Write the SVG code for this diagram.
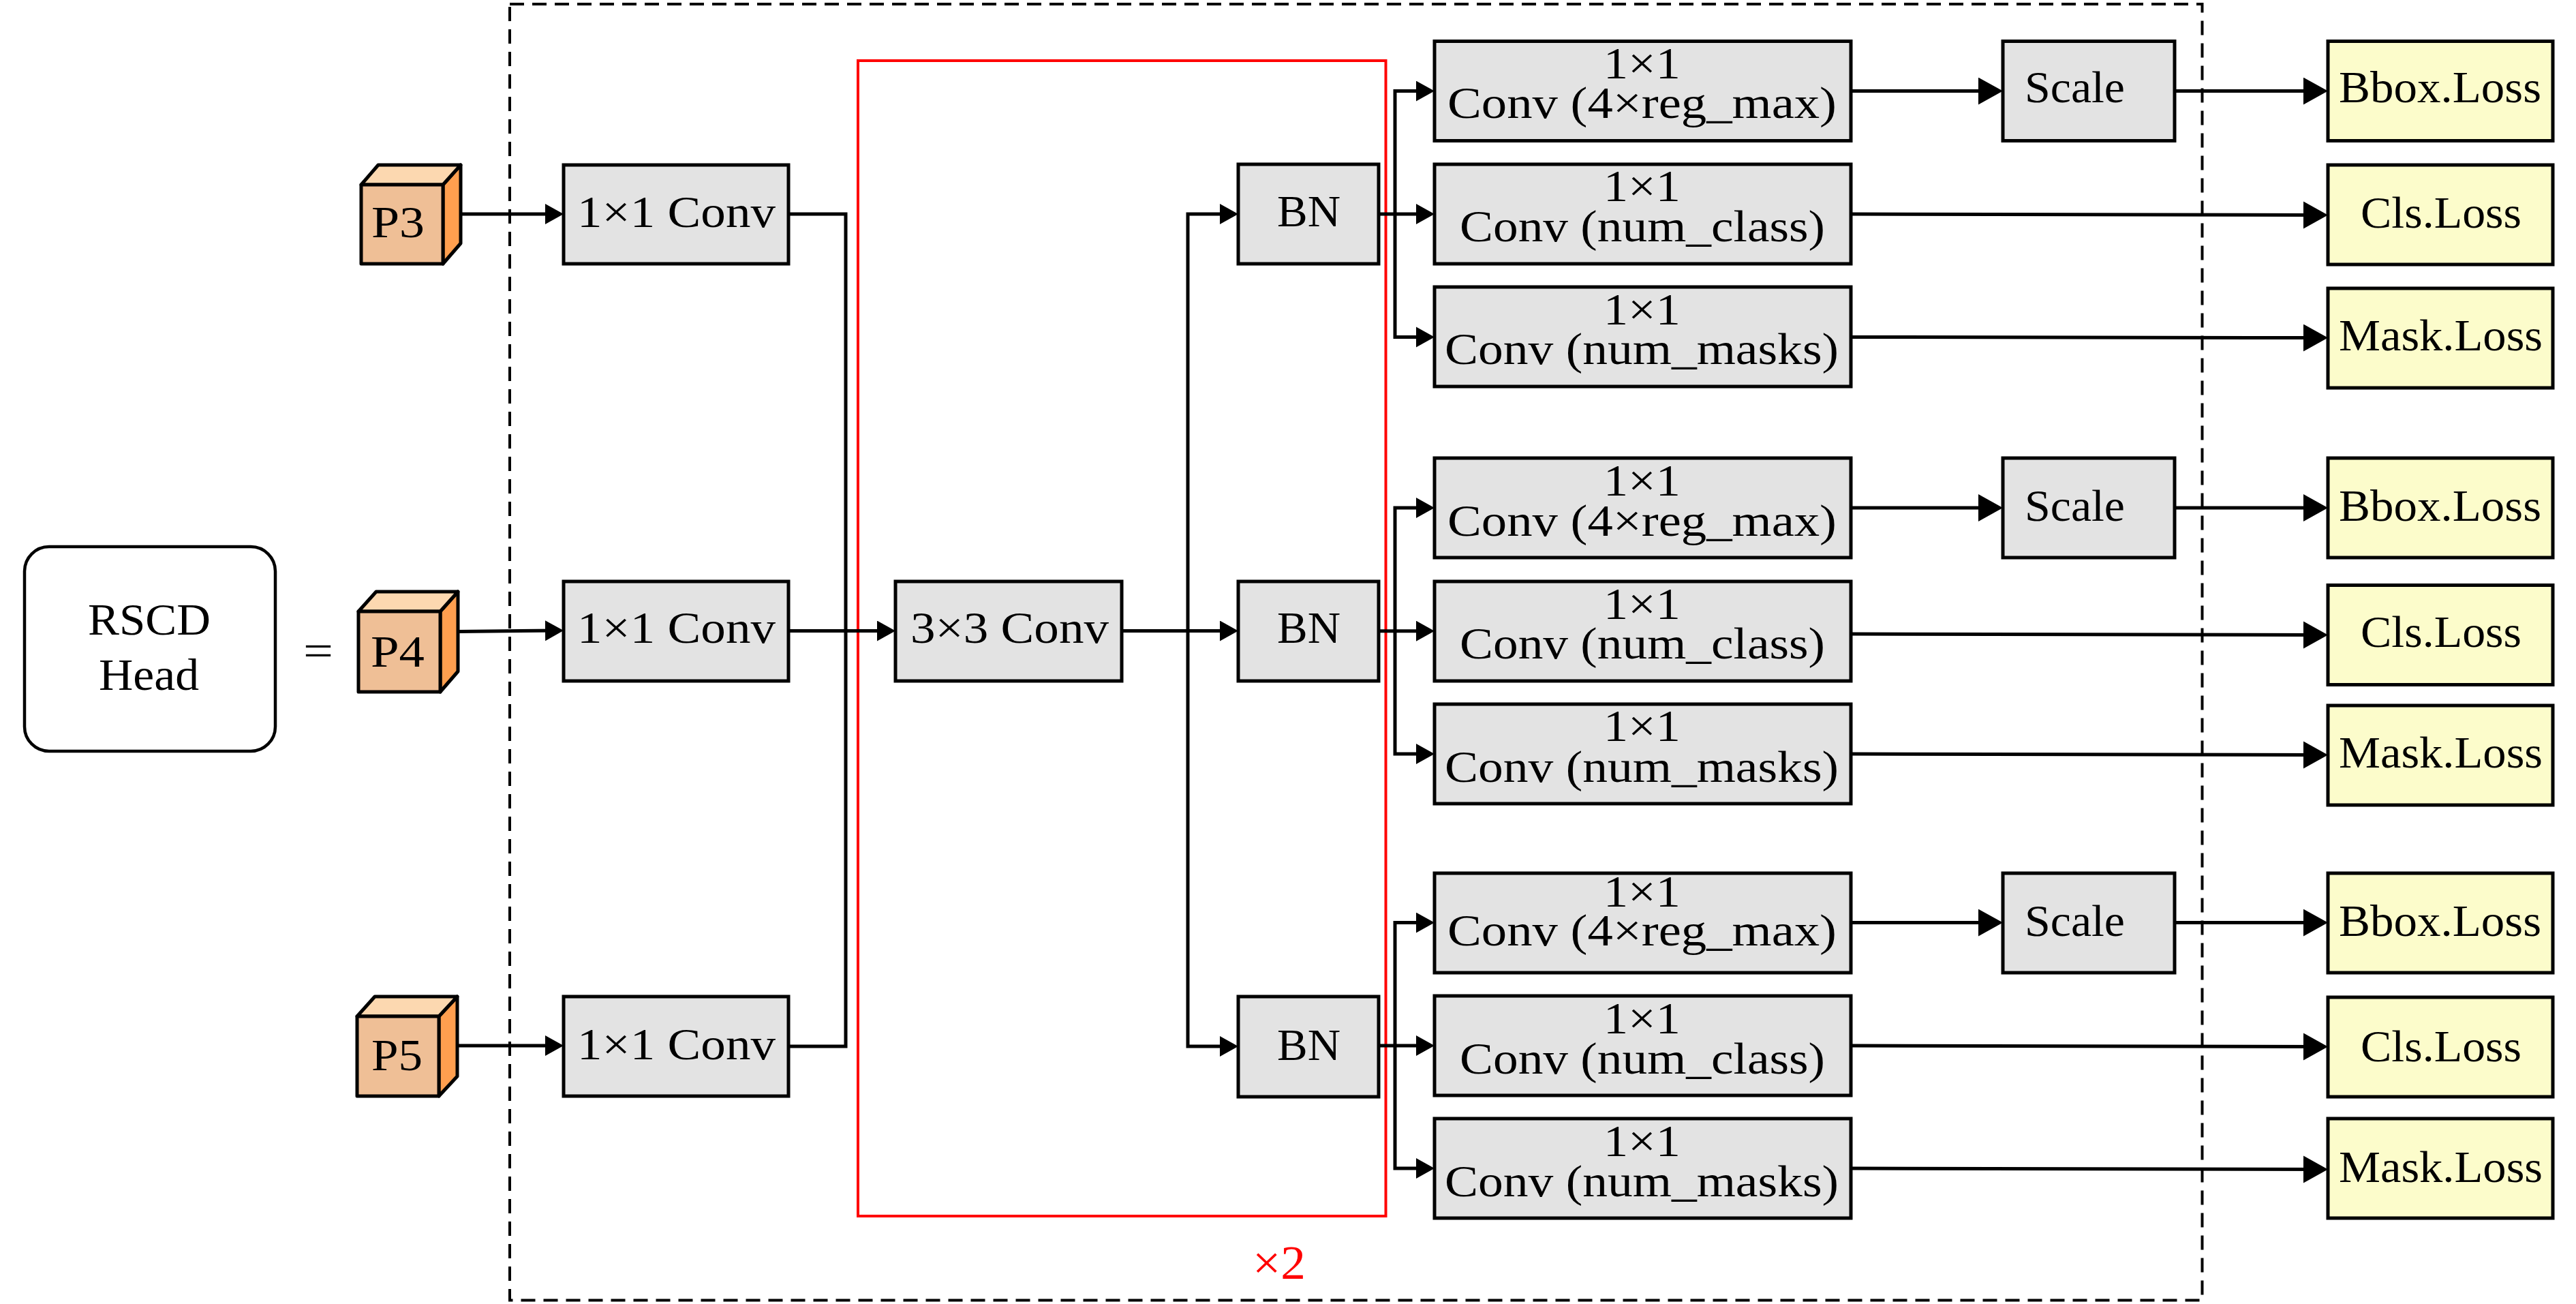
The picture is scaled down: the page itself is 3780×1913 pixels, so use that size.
<svg xmlns="http://www.w3.org/2000/svg" width="3780" height="1913" viewBox="0 0 3780 1913">
<style>
text{font-family:"Liberation Serif","Times New Roman",serif;font-size:66px;fill:#000}
.gray{fill:#e3e3e3;stroke:#000;stroke-width:5}
.loss{fill:#fcfccb;stroke:#000;stroke-width:5}
.c{fill:none;stroke:#000;stroke-width:5}
.front{fill:#efbf96;stroke:#000;stroke-width:5;stroke-linejoin:round}
.top{fill:#fcd8b0;stroke:#000;stroke-width:5;stroke-linejoin:round}
.side{fill:#ff9f4f;stroke:#000;stroke-width:5;stroke-linejoin:round}
.dash{fill:none;stroke:#000;stroke-width:4;stroke-dasharray:21 12}
.red{fill:none;stroke:#f00;stroke-width:4}
</style>
<defs>
<marker id="s" markerUnits="userSpaceOnUse" markerWidth="30" markerHeight="32" refX="17" refY="15" orient="auto"><polygon points="0,0 27,15 0,30" fill="#000"/></marker>
<marker id="b" markerUnits="userSpaceOnUse" markerWidth="40" markerHeight="42" refX="26" refY="20" orient="auto"><polygon points="0,0 36,20 0,40" fill="#000"/></marker>
</defs>
<rect width="3780" height="1913" fill="#fff"/>
<g id="frames">
<rect class="dash" x="748" y="6" width="2483.500" height="1901.500"/>
<rect class="red" x="1259" y="89" width="774.500" height="1695"/>
</g>
<g id="connectors">
<path class="c" marker-end="url(#s)" d="M676 314H817"/>
<path class="c" marker-end="url(#s)" d="M672 926.500L817 925"/>
<path class="c" marker-end="url(#s)" d="M671 1534H817"/>
<path class="c" d="M1157 314H1241V1535H1157"/>
<path class="c" marker-end="url(#s)" d="M1157 925.500H1304"/>
<path class="c" marker-end="url(#s)" d="M1646 925.500H1807"/>
<path class="c" marker-end="url(#s)" d="M1743 925.500V314H1807"/>
<path class="c" marker-end="url(#s)" d="M1743 925.500V1535H1807"/>
<path class="c" marker-end="url(#s)" d="M2023 314H2095"/>
<path class="c" marker-end="url(#s)" d="M2047 314V133.600H2095"/>
<path class="c" marker-end="url(#s)" d="M2047 314V494.400H2095"/>
<path class="c" marker-end="url(#s)" d="M2023 925.700H2095"/>
<path class="c" marker-end="url(#s)" d="M2047 925.700V745H2095"/>
<path class="c" marker-end="url(#s)" d="M2047 925.700V1106H2095"/>
<path class="c" marker-end="url(#s)" d="M2023 1534H2095"/>
<path class="c" marker-end="url(#s)" d="M2047 1534V1353.600H2095"/>
<path class="c" marker-end="url(#s)" d="M2047 1534V1714H2095"/>
<path class="c" marker-end="url(#b)" d="M2716 133.600H2929"/>
<path class="c" marker-end="url(#b)" d="M3191 133.600H3406"/>
<path class="c" marker-end="url(#b)" d="M2716 314L3406 315.500"/>
<path class="c" marker-end="url(#b)" d="M2716 494.400L3406 495.600"/>
<path class="c" marker-end="url(#b)" d="M2716 745H2929"/>
<path class="c" marker-end="url(#b)" d="M3191 745H3406"/>
<path class="c" marker-end="url(#b)" d="M2716 930L3406 931.500"/>
<path class="c" marker-end="url(#b)" d="M2716 1106L3406 1107.500"/>
<path class="c" marker-end="url(#b)" d="M2716 1353.600H2929"/>
<path class="c" marker-end="url(#b)" d="M3191 1353.600H3406"/>
<path class="c" marker-end="url(#b)" d="M2716 1534L3406 1535.500"/>
<path class="c" marker-end="url(#b)" d="M2716 1714L3406 1715.500"/>
</g>
<g id="head"><rect x="36" y="802" width="368" height="300" rx="36" ry="36" fill="#fff" stroke="#000" stroke-width="4.500"/>
<text><tspan x="129" y="931" textLength="180" lengthAdjust="spacingAndGlyphs">RSCD</tspan><tspan x="145" y="1012" textLength="147" lengthAdjust="spacingAndGlyphs">Head</tspan></text></g>
<g id="equals"><text x="445" y="977" textLength="44" lengthAdjust="spacingAndGlyphs">=</text></g>
<g id="p3"><polygon class="side" points="650,271 676,242 676,357 650,387"/><polygon class="top" points="530,271 555,242 676,242 650,271"/><rect class="front" x="530" y="271" width="120" height="116"/>
<text x="545" y="348" textLength="78" lengthAdjust="spacingAndGlyphs">P3</text></g>
<g id="p4"><polygon class="side" points="646,897 672,868 672,985 646,1015"/><polygon class="top" points="526,897 552,868 672,868 646,897"/><rect class="front" x="526" y="897" width="120" height="118"/>
<text x="544" y="978" textLength="79" lengthAdjust="spacingAndGlyphs">P4</text></g>
<g id="p5"><polygon class="side" points="644,1491 671,1462 671,1579 644,1608"/><polygon class="top" points="524,1491 550,1462 671,1462 644,1491"/><rect class="front" x="524" y="1491" width="120" height="117"/>
<text x="545" y="1570" textLength="75" lengthAdjust="spacingAndGlyphs">P5</text></g>
<g id="conv1a"><rect class="gray" x="827" y="242" width="330" height="145"/><text x="847" y="333" textLength="291" lengthAdjust="spacingAndGlyphs">1×1 Conv</text></g>
<g id="conv1b"><rect class="gray" x="827" y="853" width="330" height="146"/><text x="847" y="943" textLength="291" lengthAdjust="spacingAndGlyphs">1×1 Conv</text></g>
<g id="conv1c"><rect class="gray" x="827" y="1462" width="330" height="146"/><text x="847" y="1554" textLength="291" lengthAdjust="spacingAndGlyphs">1×1 Conv</text></g>
<g id="conv3"><rect class="gray" x="1314" y="853" width="332" height="146"/><text x="1336" y="943" textLength="291" lengthAdjust="spacingAndGlyphs">3×3 Conv</text></g>
<g id="bn1"><rect class="gray" x="1817" y="241" width="206" height="146"/><text x="1874" y="332" textLength="93" lengthAdjust="spacingAndGlyphs">BN</text></g>
<g id="bn2"><rect class="gray" x="1817" y="853" width="206" height="146"/><text x="1874" y="943" textLength="93" lengthAdjust="spacingAndGlyphs">BN</text></g>
<g id="bn3"><rect class="gray" x="1817" y="1462" width="206" height="147"/><text x="1874" y="1555" textLength="93" lengthAdjust="spacingAndGlyphs">BN</text></g>
<g id="reg1"><rect class="gray" x="2105" y="60.500" width="611" height="146"/><text><tspan x="2353" y="115" textLength="113" lengthAdjust="spacingAndGlyphs">1×1</tspan><tspan x="2124" y="173" textLength="571" lengthAdjust="spacingAndGlyphs">Conv (4×reg_max)</tspan></text></g>
<g id="cls1"><rect class="gray" x="2105" y="241" width="611" height="146"/><text><tspan x="2353" y="295" textLength="113" lengthAdjust="spacingAndGlyphs">1×1</tspan><tspan x="2142" y="354" textLength="536" lengthAdjust="spacingAndGlyphs">Conv (num_class)</tspan></text></g>
<g id="mask1"><rect class="gray" x="2105" y="421" width="611" height="146"/><text><tspan x="2353" y="476" textLength="113" lengthAdjust="spacingAndGlyphs">1×1</tspan><tspan x="2120" y="534" textLength="578" lengthAdjust="spacingAndGlyphs">Conv (num_masks)</tspan></text></g>
<g id="reg2"><rect class="gray" x="2105" y="672" width="611" height="146"/><text><tspan x="2353" y="727" textLength="113" lengthAdjust="spacingAndGlyphs">1×1</tspan><tspan x="2124" y="786" textLength="571" lengthAdjust="spacingAndGlyphs">Conv (4×reg_max)</tspan></text></g>
<g id="cls2"><rect class="gray" x="2105" y="853" width="611" height="146"/><text><tspan x="2353" y="908" textLength="113" lengthAdjust="spacingAndGlyphs">1×1</tspan><tspan x="2142" y="966" textLength="536" lengthAdjust="spacingAndGlyphs">Conv (num_class)</tspan></text></g>
<g id="mask2"><rect class="gray" x="2105" y="1033" width="611" height="146"/><text><tspan x="2353" y="1087" textLength="113" lengthAdjust="spacingAndGlyphs">1×1</tspan><tspan x="2120" y="1147" textLength="578" lengthAdjust="spacingAndGlyphs">Conv (num_masks)</tspan></text></g>
<g id="reg3"><rect class="gray" x="2105" y="1281" width="611" height="146"/><text><tspan x="2353" y="1330" textLength="113" lengthAdjust="spacingAndGlyphs">1×1</tspan><tspan x="2124" y="1387" textLength="571" lengthAdjust="spacingAndGlyphs">Conv (4×reg_max)</tspan></text></g>
<g id="cls3"><rect class="gray" x="2105" y="1461" width="611" height="146"/><text><tspan x="2353" y="1516" textLength="113" lengthAdjust="spacingAndGlyphs">1×1</tspan><tspan x="2142" y="1575" textLength="536" lengthAdjust="spacingAndGlyphs">Conv (num_class)</tspan></text></g>
<g id="mask3"><rect class="gray" x="2105" y="1641" width="611" height="146"/><text><tspan x="2353" y="1696" textLength="113" lengthAdjust="spacingAndGlyphs">1×1</tspan><tspan x="2120" y="1755" textLength="578" lengthAdjust="spacingAndGlyphs">Conv (num_masks)</tspan></text></g>
<g id="scale1"><rect class="gray" x="2939" y="60.500" width="252" height="146"/><text x="2971" y="150" textLength="147" lengthAdjust="spacingAndGlyphs">Scale</text></g>
<g id="scale2"><rect class="gray" x="2939" y="672" width="252" height="146"/><text x="2971" y="764" textLength="147" lengthAdjust="spacingAndGlyphs">Scale</text></g>
<g id="scale3"><rect class="gray" x="2939" y="1281" width="252" height="146"/><text x="2971" y="1373" textLength="147" lengthAdjust="spacingAndGlyphs">Scale</text></g>
<g id="bbox1"><rect class="loss" x="3416" y="60.500" width="330" height="146"/><text x="3432" y="150" textLength="297" lengthAdjust="spacingAndGlyphs">Bbox.Loss</text></g>
<g id="clsloss1"><rect class="loss" x="3416" y="242" width="330" height="146"/><text x="3464" y="334" textLength="236" lengthAdjust="spacingAndGlyphs">Cls.Loss</text></g>
<g id="maskloss1"><rect class="loss" x="3416" y="423" width="330" height="146"/><text x="3432" y="514" textLength="299" lengthAdjust="spacingAndGlyphs">Mask.Loss</text></g>
<g id="bbox2"><rect class="loss" x="3416" y="672" width="330" height="146"/><text x="3432" y="764" textLength="297" lengthAdjust="spacingAndGlyphs">Bbox.Loss</text></g>
<g id="clsloss2"><rect class="loss" x="3416" y="858.500" width="330" height="146"/><text x="3464" y="949" textLength="236" lengthAdjust="spacingAndGlyphs">Cls.Loss</text></g>
<g id="maskloss2"><rect class="loss" x="3416" y="1035" width="330" height="146"/><text x="3432" y="1126" textLength="299" lengthAdjust="spacingAndGlyphs">Mask.Loss</text></g>
<g id="bbox3"><rect class="loss" x="3416" y="1281" width="330" height="146"/><text x="3432" y="1373" textLength="297" lengthAdjust="spacingAndGlyphs">Bbox.Loss</text></g>
<g id="clsloss3"><rect class="loss" x="3416" y="1463" width="330" height="146"/><text x="3464" y="1557" textLength="236" lengthAdjust="spacingAndGlyphs">Cls.Loss</text></g>
<g id="maskloss3"><rect class="loss" x="3416" y="1641" width="330" height="146"/><text x="3432" y="1734" textLength="299" lengthAdjust="spacingAndGlyphs">Mask.Loss</text></g>
<g id="repeat"><text x="1838" y="1876" textLength="78" lengthAdjust="spacingAndGlyphs" style="fill:#f00;font-size:70px">×2</text></g>
</svg>
